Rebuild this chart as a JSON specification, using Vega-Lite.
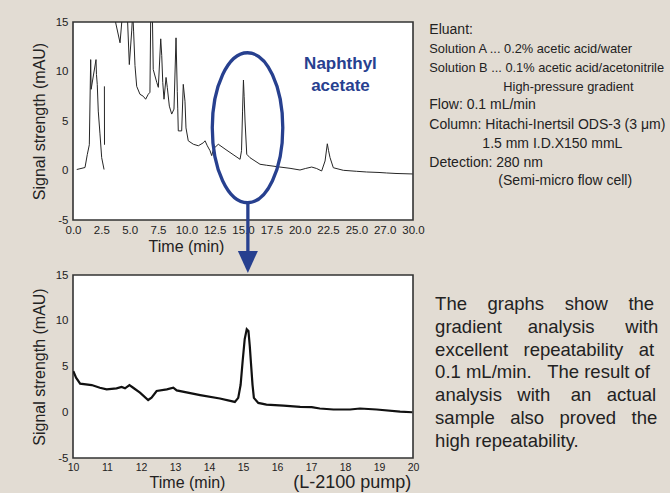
{
  "$schema": "https://vega.github.io/schema/vega-lite/v6.json",
  "background": "#e2dcd3",
  "padding": {"left": 30, "top": 15, "right": 20, "bottom": 20},
  "autosize": {"type": "pad"},
  "bounds": "flush",
  "spacing": 55,
  "config": {
    "font": "Liberation Sans",
    "view": {"fill": "white", "stroke": "#333333", "strokeWidth": 1.6},
    "axis": {
      "ticks": false, "domain": false, "grid": false,
      "labelColor": "#222222", "titleColor": "#222222",
      "titleFontWeight": "normal", "titleFontSize": 16,
      "labelFlush": false, "labelOverlap": false
    }
  },
  "vconcat": [
    {
      "width": 340,
      "height": 198,
      "encoding": {
        "x": {
          "field": "t", "type": "quantitative",
          "scale": {"domain": [0, 30], "nice": false, "zero": false},
          "axis": {
            "title": "Time (min)",
            "values": [0, 2.5, 5, 7.5, 10, 12.5, 15, 17.5, 20, 22.5, 25, 27.5, 30],
            "labelExpr": "datum.value == 27.5 ? '27.0' : format(datum.value, '.1f')",
            "labelFontSize": 11.5, "labelPadding": 4,
            "titleX": 113, "titleY": 31, "titleAlign": "center", "titleBaseline": "alphabetic"
          }
        },
        "y": {
          "field": "v", "type": "quantitative",
          "scale": {"domain": [-5, 15], "nice": false, "zero": false},
          "axis": {
            "title": "Signal strength (mAU)",
            "values": [-5, 0, 5, 10, 15],
            "labelExpr": "datum.value < 0 ? '-' + abs(datum.value) : '' + datum.value",
            "labelFontSize": 11.5, "labelPadding": 5,
            "titleX": -28.5, "titleY": 99, "titleAlign": "center", "titleBaseline": "alphabetic"
          }
        }
      },
      "layer": [
        {
          "data": {"values": [
            {"t": 0.33, "v": 0.1}, {"t": 1.06, "v": 0.3}, {"t": 1.26, "v": 1.6}, {"t": 1.44, "v": 2.6},
            {"t": 1.56, "v": 11.2}, {"t": 1.6, "v": 8.2}, {"t": 2.03, "v": 11.2}, {"t": 2.07, "v": 9.7},
            {"t": 2.14, "v": 8.7}, {"t": 2.23, "v": 6.0}, {"t": 2.38, "v": 3.7}, {"t": 2.53, "v": 1.3},
            {"t": 2.74, "v": 0.1}, {"t": 2.75, "v": null}, {"t": 2.77, "v": 8.5}, {"t": 2.78, "v": 2.6},
            {"t": 3.2, "v": null},
            {"t": 3.72, "v": 16}, {"t": 3.77, "v": 14.9}, {"t": 4.15, "v": 12.9}, {"t": 4.45, "v": 17},
            {"t": 4.75, "v": 17}, {"t": 4.97, "v": 10.7}, {"t": 5.18, "v": 14.1}, {"t": 5.27, "v": 16},
            {"t": 5.35, "v": 14.0}, {"t": 5.47, "v": 10.6}, {"t": 5.62, "v": 8.5}, {"t": 5.91, "v": 7.7},
            {"t": 6.2, "v": 7.5}, {"t": 6.41, "v": 7.2}, {"t": 6.64, "v": 7.7}, {"t": 6.79, "v": 7.9},
            {"t": 6.86, "v": 16}, {"t": 7.0, "v": 16}, {"t": 7.08, "v": 10.2}, {"t": 7.39, "v": 8.9},
            {"t": 7.53, "v": 8.4}, {"t": 7.74, "v": 13.3}, {"t": 7.83, "v": 11.6}, {"t": 7.92, "v": 8.9},
            {"t": 8.03, "v": 7.2}, {"t": 8.21, "v": 9.4}, {"t": 8.32, "v": 8.4}, {"t": 8.5, "v": 6.5},
            {"t": 8.71, "v": 5.7}, {"t": 8.91, "v": 6.2}, {"t": 9.09, "v": 13.4}, {"t": 9.2, "v": 8.0},
            {"t": 9.24, "v": 6.3}, {"t": 9.29, "v": 4.0}, {"t": 9.59, "v": 4.0}, {"t": 9.73, "v": 8.7},
            {"t": 9.88, "v": 7.0}, {"t": 9.97, "v": 4.3}, {"t": 10.17, "v": 3.0}, {"t": 10.62, "v": 2.65},
            {"t": 11.06, "v": 2.5}, {"t": 11.5, "v": 2.8}, {"t": 11.65, "v": 3.0}, {"t": 11.85, "v": 2.5},
            {"t": 12.09, "v": 2.0}, {"t": 12.24, "v": 1.5}, {"t": 12.4, "v": 2.2}, {"t": 12.82, "v": 2.65},
            {"t": 13.5, "v": 2.1}, {"t": 14.2, "v": 1.55}, {"t": 14.74, "v": 1.13}, {"t": 14.87, "v": 2.0},
            {"t": 14.96, "v": 6.0}, {"t": 15.04, "v": 9.14}, {"t": 15.1, "v": 7.5}, {"t": 15.18, "v": 5.0},
            {"t": 15.33, "v": 1.64}, {"t": 15.62, "v": 1.29}, {"t": 16.5, "v": 0.63}, {"t": 17.09, "v": 0.53},
            {"t": 18.26, "v": 0.35}, {"t": 19.15, "v": 0.22}, {"t": 20.03, "v": 0.05}, {"t": 20.5, "v": 0.2},
            {"t": 21.06, "v": 0.35}, {"t": 21.5, "v": 0.2}, {"t": 21.94, "v": -0.05}, {"t": 22.24, "v": 0.96},
            {"t": 22.44, "v": 2.7}, {"t": 22.55, "v": 2.0}, {"t": 22.68, "v": 1.3}, {"t": 22.97, "v": 0.28},
            {"t": 23.85, "v": 0.02}, {"t": 25.0, "v": -0.08}, {"t": 25.91, "v": -0.15}, {"t": 27.0, "v": -0.2},
            {"t": 27.68, "v": -0.25}, {"t": 28.5, "v": -0.3}, {"t": 29.97, "v": -0.35}
          ]},
          "mark": {"type": "line", "clip": true, "color": "#262626", "strokeWidth": 1}
        },
        {
          "data": {"values": [{"t": 15.4, "v": 4.32}]},
          "mark": {
            "type": "point", "filled": false, "opacity": 1, "stroke": "#27408f", "strokeWidth": 3.3,
            "shape": "M0,-1C0.26,-1,0.47,-0.552,0.47,0C0.47,0.552,0.26,1,0,1C-0.26,1,-0.47,0.552,-0.47,0C-0.47,-0.552,-0.26,-1,0,-1Z",
            "size": 22500
          }
        },
        {
          "data": {"values": [{"t": 15.43, "v": -3.26, "v2": -8.33}]},
          "mark": {"type": "rule", "color": "#27408f", "strokeWidth": 3.3},
          "encoding": {"y2": {"field": "v2"}}
        },
        {
          "data": {"values": [{"t": 15.43, "v": -9.24}]},
          "mark": {
            "type": "point", "filled": true, "opacity": 1, "color": "#27408f",
            "shape": "M-0.91,-1L0.91,-1L0,1Z", "size": 484
          }
        },
        {
          "data": {"values": [
            {"t": 23.6, "v": 10.22, "txt": "Naphthyl"},
            {"t": 23.6, "v": 8.03, "txt": "acetate"}
          ]},
          "mark": {"type": "text", "align": "center", "baseline": "alphabetic", "fontSize": 17, "fontWeight": "bold", "color": "#27408f"},
          "encoding": {"text": {"field": "txt"}}
        },
        {
          "data": {"values": [
            {"t": 31.44, "v": 13.76, "txt": "Eluant:"},
            {"t": 31.44, "v": 6.18, "txt": "Flow: 0.1 mL/min"},
            {"t": 31.44, "v": 4.22, "txt": "Column: Hitachi-Inertsil ODS-3 (3 μm)"},
            {"t": 36.12, "v": 2.3, "txt": "1.5 mm I.D.X150 mmL"},
            {"t": 31.44, "v": 0.38, "txt": "Detection: 280 nm"},
            {"t": 37.53, "v": -1.49, "txt": "(Semi-micro flow cell)"}
          ]},
          "mark": {"type": "text", "align": "left", "baseline": "alphabetic", "fontSize": 14, "color": "#222222"},
          "encoding": {"text": {"field": "txt"}}
        },
        {
          "data": {"values": [
            {"t": 31.44, "v": 11.84, "txt": "Solution A ... 0.2% acetic acid/water"},
            {"t": 31.44, "v": 9.95, "txt": "Solution B ... 0.1% acetic acid/acetonitrile"},
            {"t": 37.97, "v": 8.03, "txt": "High-pressure gradient"}
          ]},
          "mark": {"type": "text", "align": "left", "baseline": "alphabetic", "fontSize": 12.8, "color": "#222222"},
          "encoding": {"text": {"field": "txt"}}
        }
      ]
    },
    {
      "width": 340,
      "height": 183,
      "encoding": {
        "x": {
          "field": "t", "type": "quantitative",
          "scale": {"domain": [10, 20], "nice": false, "zero": false},
          "axis": {
            "title": "Time (min)",
            "values": [10, 11, 12, 13, 14, 15, 16, 17, 18, 19, 20],
            "format": "d",
            "labelFontSize": 10.5, "labelPadding": 4,
            "titleX": 114, "titleY": 29.5, "titleAlign": "center", "titleBaseline": "alphabetic"
          }
        },
        "y": {
          "field": "v", "type": "quantitative",
          "scale": {"domain": [-5, 15], "nice": false, "zero": false},
          "axis": {
            "title": "Signal strength (mAU)",
            "values": [-5, 0, 5, 10, 15],
            "labelExpr": "datum.value < 0 ? '-' + abs(datum.value) : '' + datum.value",
            "labelFontSize": 11.5, "labelPadding": 5,
            "titleX": -28.5, "titleY": 91.5, "titleAlign": "center", "titleBaseline": "alphabetic"
          }
        }
      },
      "layer": [
        {
          "data": {"values": [
            {"t": 10.01, "v": 4.5}, {"t": 10.09, "v": 3.78}, {"t": 10.21, "v": 3.12}, {"t": 10.55, "v": 2.97},
            {"t": 10.79, "v": 2.68}, {"t": 10.99, "v": 2.5}, {"t": 11.28, "v": 2.61}, {"t": 11.43, "v": 2.76},
            {"t": 11.53, "v": 2.61}, {"t": 11.66, "v": 2.97}, {"t": 11.77, "v": 2.68}, {"t": 11.97, "v": 2.14},
            {"t": 12.21, "v": 1.34}, {"t": 12.31, "v": 1.6}, {"t": 12.46, "v": 2.32}, {"t": 12.76, "v": 2.5},
            {"t": 12.95, "v": 2.68}, {"t": 13.05, "v": 2.39}, {"t": 13.74, "v": 1.88}, {"t": 14.32, "v": 1.5},
            {"t": 14.76, "v": 1.13}, {"t": 14.86, "v": 1.57}, {"t": 14.93, "v": 3.0}, {"t": 14.99, "v": 5.6},
            {"t": 15.05, "v": 8.0}, {"t": 15.11, "v": 9.07}, {"t": 15.16, "v": 8.88}, {"t": 15.2, "v": 7.2},
            {"t": 15.23, "v": 5.6}, {"t": 15.28, "v": 3.0}, {"t": 15.32, "v": 1.57}, {"t": 15.45, "v": 1.02},
            {"t": 15.69, "v": 0.84}, {"t": 16.19, "v": 0.73}, {"t": 16.68, "v": 0.58}, {"t": 17.02, "v": 0.55},
            {"t": 17.26, "v": 0.41}, {"t": 17.66, "v": 0.3}, {"t": 18.15, "v": 0.3}, {"t": 18.44, "v": 0.41},
            {"t": 18.93, "v": 0.3}, {"t": 19.62, "v": 0.06}, {"t": 19.98, "v": 0.0}
          ]},
          "mark": {"type": "line", "clip": true, "color": "#111111", "strokeWidth": 2.2}
        },
        {
          "data": {"values": [
            {"t": 20.65, "v": 11.14, "txt": "The\u00a0\u00a0\u00a0\u00a0graphs\u00a0\u00a0\u00a0\u00a0show\u00a0\u00a0\u00a0\u00a0the"},
            {"t": 20.65, "v": 8.63, "txt": "gradient\u00a0\u00a0\u00a0\u00a0\u00a0analysis\u00a0\u00a0\u00a0\u00a0\u00a0\u00a0with"},
            {"t": 20.65, "v": 6.15, "txt": "excellent\u00a0\u00a0\u00a0repeatability\u00a0\u00a0\u00a0at"},
            {"t": 20.65, "v": 3.71, "txt": "0.1\u00a0mL/min.\u00a0\u00a0\u00a0The\u00a0result\u00a0of"},
            {"t": 20.65, "v": 1.23, "txt": "analysis\u00a0\u00a0\u00a0with\u00a0\u00a0\u00a0\u00a0an\u00a0\u00a0\u00a0actual"},
            {"t": 20.65, "v": -1.25, "txt": "sample\u00a0\u00a0\u00a0also\u00a0\u00a0\u00a0proved\u00a0\u00a0\u00a0the"},
            {"t": 20.65, "v": -3.77, "txt": "high repeatability."}
          ]},
          "mark": {"type": "text", "align": "left", "baseline": "alphabetic", "fontSize": 18.5, "color": "#222222"},
          "encoding": {"text": {"field": "txt"}}
        },
        {
          "data": {"values": [{"t": 19.95, "v": -8.28, "txt": "(L-2100 pump)"}]},
          "mark": {"type": "text", "align": "right", "baseline": "alphabetic", "fontSize": 18, "color": "#222222"},
          "encoding": {"text": {"field": "txt"}}
        }
      ]
    }
  ]
}
